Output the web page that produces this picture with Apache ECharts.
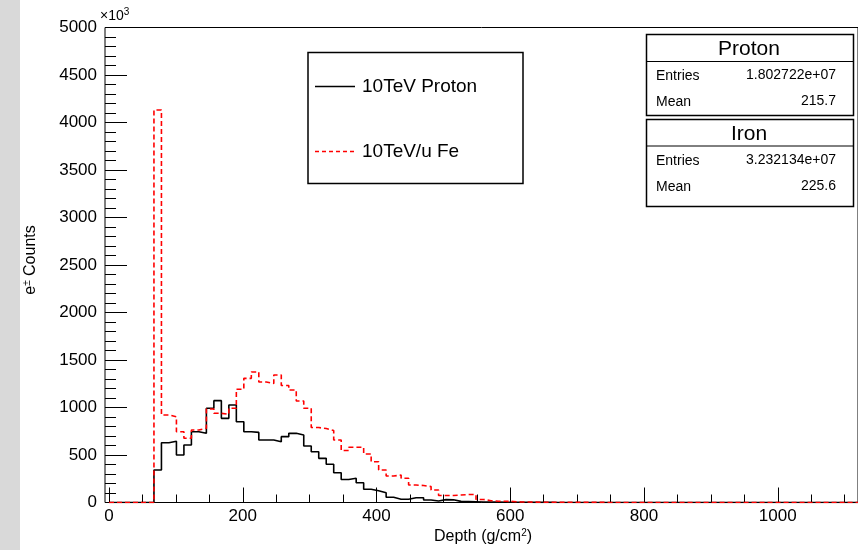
<!DOCTYPE html>
<html>
<head>
<meta charset="utf-8">
<script src="https://cdn.jsdelivr.net/npm/echarts@6/dist/echarts.min.js"></script>
<style>
html, body { margin: 0; padding: 0; background: #fff; }
#main { width: 858px; height: 550px; }
</style>
</head>
<body>
<div id="main"></div>
<script>
// histogram binning, g/cm2
const binWidth = 11.2;
const nBins = 100;

// e+- counts per depth bin, in units of 10^3
const protonCounts = [
  0, 0, 0, 0, 0, 0,
  342, 629, 644, 500, 605, 745, 728, 992, 1072, 886,
  1026, 850, 745, 738, 658, 658, 640, 693, 728, 711,
  595, 535, 465, 402, 313, 242, 255, 208, 139, 124,
  103, 55, 34, 34, 50, 50, 26, 15, 30, 28,
  12, 10, 8, 6, 5, 4, 3, 3, 2, 2,
  1, 1, 1, 0, 0, 0, 0, 0, 0, 0,
  0, 0, 0, 0, 0, 0, 0, 0, 0, 0,
  0, 0, 0, 0, 0, 0, 0, 0, 0, 0,
  0, 0, 0, 0, 0, 0, 0, 0, 0, 0,
  0, 0, 0, 0
];
const ironCounts = [
  0, 0, 0, 0, 0, 0,
  4132, 921, 903, 745, 676, 763, 781, 984, 939, 928,
  992, 1192, 1307, 1374, 1268, 1253, 1342, 1232, 1184, 1068,
  992, 789, 779, 758, 658, 547, 581, 581, 511, 429,
  342, 279, 289, 255, 184, 179, 168, 132, 74, 74,
  79, 84, 84, 32, 19, 13, 13, 11, 5, 5,
  4, 3, 3, 2, 2, 2, 1, 1, 1, 1,
  0, 0, 0, 0, 0, 0, 0, 0, 0, 0,
  0, 0, 0, 0, 0, 0, 0, 0, 0, 0,
  0, 0, 0, 0, 0, 0, 0, 0, 0, 0,
  0, 0, 0, 0
];

const xMajorTicks = [0, 200, 400, 600, 800, 1000];
const xMinorTicks = [0, 50, 100, 150, 200, 250, 300, 350, 400, 450, 500, 550,
  600, 650, 700, 750, 800, 850, 900, 950, 1000, 1050, 1100];

const legendNames = ['10TeV Proton', '10TeV/u Fe'];
const statsProton = { title: 'Proton', entries: '1.802722e+07', mean: '215.7' };
const statsIron = { title: 'Iron', entries: '3.232134e+07', mean: '225.6' };

// left bin edges + closing edge, for step drawing
function histData(counts) {
  let pts = [];
  for (let i = 0; i < nBins; i++) {
    pts.push([i * binWidth, counts[i]]);
  }
  pts.push([nBins * binWidth, counts[nBins - 1]]);
  return pts;
}

const font = 'Liberation Sans, Arial, Helvetica, sans-serif';

function statsBox(s, top, h, div) {
  return [
    { type: 'rect', shape: { x: 646.5, y: top, width: 207, height: h },
      style: { fill: '#fff', stroke: '#000', lineWidth: 1.5 } },
    { type: 'line', shape: { x1: 646.5, y1: div, x2: 853.5, y2: div },
      style: { stroke: '#000', lineWidth: 1 } },
    { type: 'text', x: 749, y: (top + div) / 2 + 1,
      style: { text: s.title, font: '21px ' + font, fill: '#000', textAlign: 'center', textVerticalAlign: 'middle' } },
    { type: 'text', x: 656, y: div + 15,
      style: { text: 'Entries', font: '14px ' + font, fill: '#000', textAlign: 'left', textVerticalAlign: 'middle' } },
    { type: 'text', x: 836, y: div + 14,
      style: { text: s.entries, font: '14px ' + font, fill: '#000', textAlign: 'right', textVerticalAlign: 'middle' } },
    { type: 'text', x: 656, y: div + 41,
      style: { text: 'Mean', font: '14px ' + font, fill: '#000', textAlign: 'left', textVerticalAlign: 'middle' } },
    { type: 'text', x: 836, y: div + 40,
      style: { text: s.mean, font: '14px ' + font, fill: '#000', textAlign: 'right', textVerticalAlign: 'middle' } }
  ];
}

function plain(v) { return String(v); }

let myChart = echarts.init(document.getElementById('main'), null, { renderer: 'canvas' });
myChart.setOption({
  animation: false,
  backgroundColor: '#fff',
  grid: {
    left: 105, right: -2, top: 27.5, bottom: 47.5,
    show: true, borderColor: '#000', borderWidth: 1, backgroundColor: 'transparent'
  },
  xAxis: [
    {
      type: 'value', min: -6, max: 1120,
      axisLine: { show: false, onZero: false },
      axisTick: { show: true, inside: true, length: 15, customValues: xMajorTicks, lineStyle: { color: '#000', width: 1 } },
      axisLabel: { customValues: xMajorTicks, formatter: plain, fontSize: 17, fontFamily: font, color: '#000', margin: 5 },
      splitLine: { show: false }
    },
    {
      type: 'value', min: -6, max: 1120, position: 'bottom',
      axisLine: { show: false, onZero: false },
      axisTick: { show: true, inside: true, length: 8, customValues: xMinorTicks, lineStyle: { color: '#000', width: 1 } },
      axisLabel: { show: false },
      splitLine: { show: false }
    }
  ],
  yAxis: {
    type: 'value', min: 0, max: 5000, interval: 500,
    axisLine: { show: false, onZero: false },
    axisTick: { show: true, inside: true, length: 22, lineStyle: { color: '#000', width: 1 } },
    minorTick: { show: true, splitNumber: 5, length: 11, lineStyle: { color: '#000', width: 1 } },
    axisLabel: { formatter: plain, fontSize: 17, fontFamily: font, color: '#000', margin: 8 },
    splitLine: { show: false }
  },
  series: [
    {
      name: legendNames[0], type: 'line', xAxisIndex: 0, step: 'end',
      symbol: 'none', data: histData(protonCounts),
      lineStyle: { color: '#000', width: 1.6 }, z: 3
    },
    {
      name: legendNames[1], type: 'line', xAxisIndex: 0, step: 'end',
      symbol: 'none', data: histData(ironCounts),
      lineStyle: { color: '#ff0000', width: 1.6, type: [5, 3] }, z: 4
    }
  ],
  graphic: [
    { type: 'rect', shape: { x: 0, y: 0, width: 20, height: 550 }, style: { fill: '#d9d9d9' }, z: -10 },
    { type: 'text', x: 100, y: 16,
      style: { text: '×10{s|3}', font: '14px ' + font, fill: '#000', textVerticalAlign: 'middle',
        rich: { s: { fontSize: 10, fontFamily: font, padding: [0, 0, 8, 0] } } } },
    { type: 'text', x: 31, y: 260, rotation: Math.PI / 2,
      style: { text: 'e{s|±} Counts', font: '16px ' + font, fill: '#000', textAlign: 'center', textVerticalAlign: 'middle',
        rich: { s: { fontSize: 10, fontFamily: font, padding: [0, 0, 7, 0] } } } },
    { type: 'text', x: 483, y: 537,
      style: { text: 'Depth (g/cm{s|2})', font: '16px ' + font, fill: '#000', textAlign: 'center', textVerticalAlign: 'middle',
        rich: { s: { fontSize: 10, fontFamily: font, padding: [0, 0, 8, 0] } } } },
    // legend
    { type: 'rect', shape: { x: 308, y: 52.5, width: 215, height: 131 },
      style: { fill: '#fff', stroke: '#000', lineWidth: 1.5 } },
    { type: 'line', shape: { x1: 315, y1: 86.5, x2: 355, y2: 86.5 }, style: { stroke: '#000', lineWidth: 1.5 } },
    { type: 'text', x: 362, y: 87,
      style: { text: legendNames[0], font: '19px ' + font, fill: '#000', textVerticalAlign: 'middle' } },
    { type: 'line', shape: { x1: 315, y1: 151.5, x2: 355, y2: 151.5 },
      style: { stroke: '#ff0000', lineWidth: 1.5, lineDash: [4, 3] } },
    { type: 'text', x: 362, y: 152,
      style: { text: legendNames[1], font: '19px ' + font, fill: '#000', textVerticalAlign: 'middle' } }
  ].concat(statsBox(statsProton, 34.5, 81, 61.5), statsBox(statsIron, 119.5, 87, 146))
});
</script>
</body>
</html>
